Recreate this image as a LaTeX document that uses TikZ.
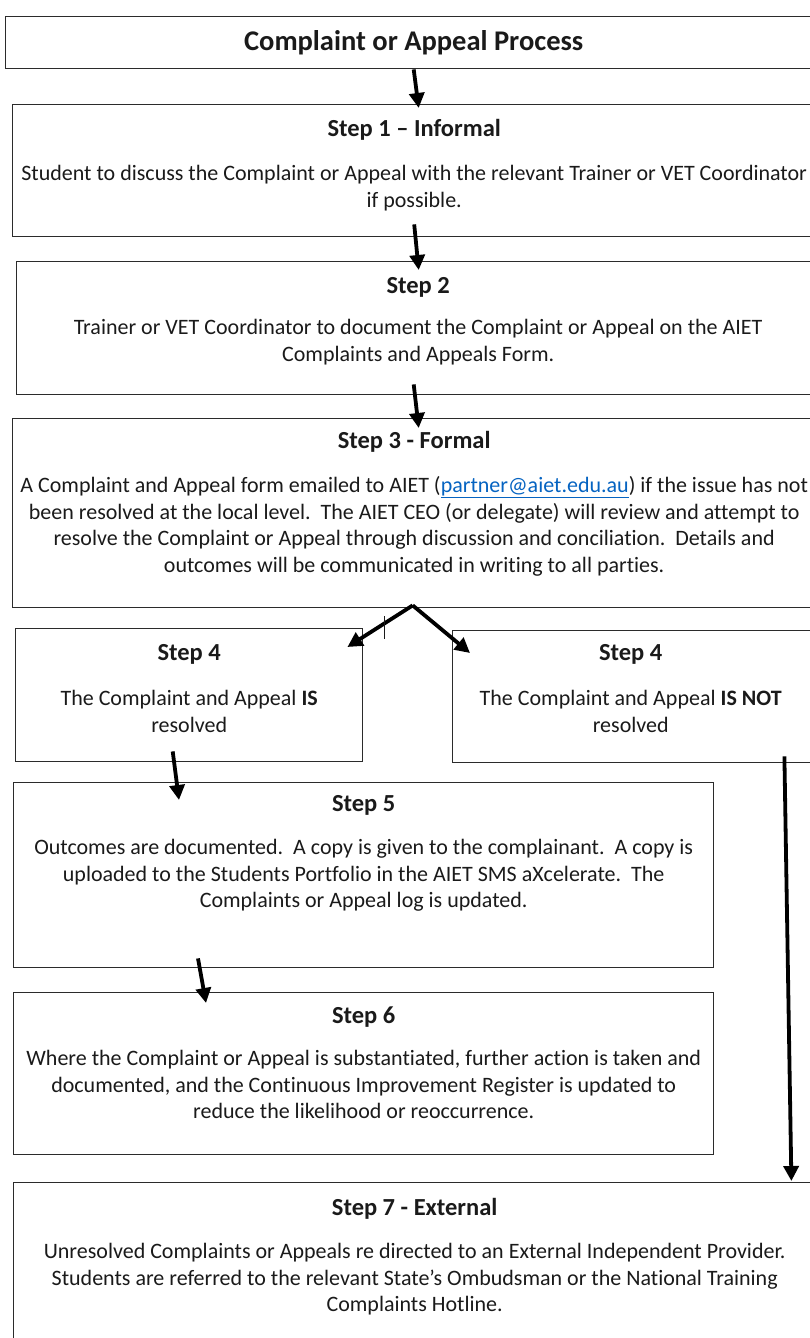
\documentclass[tikz,border=0pt]{standalone}
\usepackage{fontspec}
\setmainfont{Carlito}[Ligatures={NoCommon}]
\usepackage{tikz}
\usetikzlibrary{calc,arrows.meta}
\definecolor{ink}{HTML}{1A1A1A}
\definecolor{edge}{HTML}{2B2B2B}
\definecolor{mail}{HTML}{0563C1}
\tikzset{
  box/.style={draw=edge, line width=1.4pt, anchor=north west, inner sep=0pt},
  title/.style={text=ink, font=\fontsize{28.5}{32}\selectfont\bfseries},
  head/.style={text=ink, font=\fontsize{24.5}{28}\selectfont\bfseries},
  body/.style={text=ink, font=\fontsize{22}{26.5}\selectfont, align=center, anchor=north},
  arr/.style={draw=black, line width=3.8pt, -{Triangle[length=15pt,width=15pt]}},
  tick/.style={draw=ink, line width=0.8pt},
}
\newcommand{\mailto}[1]{\textcolor{mail}{\underline{#1}}}

\begin{document}
\begin{tikzpicture}[x=1pt, y=-1pt]
  \useasboundingbox (0,0) rectangle (810,1338);
  % boxes
  \node[box, minimum width=816pt, minimum height=52pt]  (top) at (5,16) {};
  \node[box, minimum width=803pt, minimum height=132pt] (s1)  at (12,104) {};
  \node[box, minimum width=799pt, minimum height=133pt] (s2)  at (16,261) {};
  \node[box, minimum width=803pt, minimum height=189pt] (s3)  at (12,418) {};
  \node[box, minimum width=347pt, minimum height=133pt] (s4a) at (15,628) {};
  \node[box, minimum width=360pt, minimum height=132pt] (s4b) at (452,630) {};
  \node[box, minimum width=700pt, minimum height=185pt] (s5)  at (13,782) {};
  \node[box, minimum width=700pt, minimum height=162pt] (s6)  at (13,992) {};
  \node[box, minimum width=802pt, minimum height=170pt] (s7)  at (13,1182) {};
  % texts
  \node[title] (topt) at (top.center) {Complaint or Appeal Process};
  \node[head] (s1h) at ($(s1.north)+(0,26)$) {Step 1 – Informal};
  \node[body] (s1b) at ($(s1h)+(0,32)$) {Student to discuss the Complaint or Appeal with the relevant Trainer or VET Coordinator\\if possible.};
  \node[head] (s2h) at ($(s2.north)+(2,26)$) {Step 2};
  \node[body] (s2b) at ($(s2h)+(0,29)$) {Trainer or VET Coordinator to document the Complaint or Appeal on the AIET\\Complaints and Appeals Form.};
  \node[head] (s3h) at ($(s3.north)+(0,24)$) {Step 3 - Formal};
  \node[body] (s3b) at ($(s3h)+(0,31)$) {A Complaint and Appeal form emailed to AIET (\mailto{partner@aiet.edu.au}) if the issue has not\\been resolved at the local level.\ \ The AIET CEO (or delegate) will review and attempt to\\resolve the Complaint or Appeal through discussion and conciliation.\ \ Details and\\outcomes will be communicated in writing to all parties.};
  \node[head] (s4ah) at ($(s4a.north)+(0,26)$) {Step 4};
  \node[body] (s4ab) at ($(s4ah)+(0,33)$) {The Complaint and Appeal \textbf{IS}\\resolved};
  \node[head] (s4bh) at ($(s4b.north)+(-2,24)$) {Step 4};
  \node[body] (s4bb) at ($(s4bh)+(0,33)$) {The Complaint and Appeal \textbf{IS NOT}\\resolved};
  \node[head] (s5h) at ($(s5.north)+(0,23)$) {Step 5};
  \node[body] (s5b) at ($(s5h)+(0,31)$) {Outcomes are documented.\ \ A copy is given to the complainant.\ \ A copy is\\uploaded to the Students Portfolio in the AIET SMS aXcelerate.\ \ The\\Complaints or Appeal log is updated.};
  \node[head] (s6h) at ($(s6.north)+(0,25)$) {Step 6};
  \node[body] (s6b) at ($(s6h)+(0,30)$) {Where the Complaint or Appeal is substantiated, further action is taken and\\documented, and the Continuous Improvement Register is updated to\\reduce the likelihood or reoccurrence.};
  \node[head] (s7h) at ($(s7.north)+(0,27)$) {Step 7 - External};
  \node[body] (s7b) at ($(s7h)+(0,31)$) {Unresolved Complaints or Appeals re directed to an External Independent Provider.\\Students are referred to the relevant State’s Ombudsman or the National Training\\Complaints Hotline.};
  % arrows
  \draw[arr] (top.south) -- ($(s1.north)+(4.5,4)$);
  \draw[arr] ($(s1.south)+(0,-13)$) -- ($(s2.north)+(2.5,9)$);
  \draw[arr] ($(s2.south)+(-2.5,-11)$) -- ($(s3.north)+(4.5,10)$);
  \coordinate (fork) at ($(s3.south)+(-1.5,-3)$);
  \draw[arr] (fork) -- ($(s4a.north east)+(-16,19)$);
  \draw[arr] (fork) -- ($(s4b.north west)+(18,23)$);
  \draw[tick] ($(s4a.north east)+(21,-12)$) -- ($(s4a.north east)+(21,11)$);
  \draw[arr] ($(s4a.south)+(-16.5,-11)$) -- ($(s5.north west)+(166,18)$);
  \draw[arr] ($(s5.south west)+(185,-10)$) -- ($(s6.north west)+(193,11)$);
  \draw[arr] ($(s4b.south east)+(-29,-7)$) -- ($(s7.north east)+(-25,-1)$);
\end{tikzpicture}
\end{document}
